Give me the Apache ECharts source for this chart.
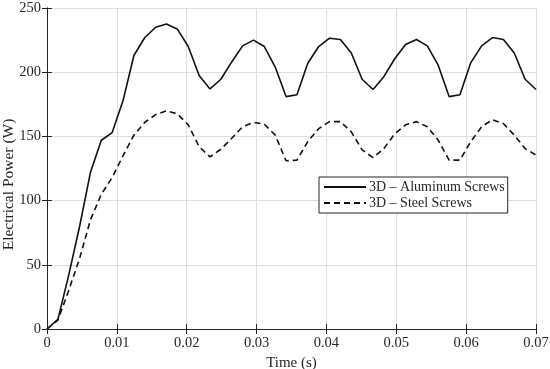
<!DOCTYPE html>
<html>
<head>
<meta charset="utf-8">
<script src="https://cdn.jsdelivr.net/npm/echarts@6/dist/echarts.min.js"></script>
<style>
html,body{margin:0;padding:0;background:#fff;}
#chart{width:550px;height:369px;}
</style>
</head>
<body>
<div id="chart"></div>
<script>
const timeS = [0,0.00156,0.00311,0.00467,0.00622,0.00778,0.00933,0.01089,0.01244,0.01400,
  0.01556,0.01711,0.01867,0.02022,0.02178,0.02333,0.02489,0.02644,0.02800,0.02956,
  0.03111,0.03267,0.03422,0.03578,0.03733,0.03889,0.04044,0.04200,0.04356,0.04511,
  0.04667,0.04822,0.04978,0.05133,0.05289,0.05444,0.05600,0.05756,0.05911,0.06067,
  0.06222,0.06378,0.06533,0.06689,0.06844,0.07000];
const aluminum = [0,7.5,42,80,122,147,153,178,213,227,
  235,237.5,233.5,220,197.5,187,194.5,208,220.5,225,
  220,204,181,182.5,207,220,226.5,225.5,215,194.5,
  186.5,196.5,210.5,221.5,225.5,220.5,205.5,181,182.5,207.5,
  220.5,227,225.5,215,194.5,186.5];
const steel = [0,7,30,55,85,105,118,135,151,161,
  167,170,167.5,159,142,134,140,148.5,157.5,161,
  159.5,151,131,131.5,146,156,161.5,161.5,153.5,139.5,
  133.5,140.5,152,159,161.5,157.5,147,131.5,131.5,146,
  157.5,163,160,151,140.5,135.5];
const seriesNames = ['3D – Aluminum Screws','3D – Steel Screws'];
const xTicks = [0,0.01,0.02,0.03,0.04,0.05,0.06,0.07];
const yTicks = [0,50,100,150,200,250];
const xTitle = 'Time (s)';
const yTitle = 'Electrical Power (W)';

const font = 'Liberation Serif';
const chart = echarts.init(document.getElementById('chart'), null, {renderer:'canvas'});
const pair = (xs, ys) => xs.map((x,i)=>[x, ys[i]]);
const axisLine = {show:true, lineStyle:{color:'#262626', width:1}};
const tick = {show:true, inside:true, length:5, lineStyle:{color:'#262626'}};
chart.setOption({
  animation:false,
  backgroundColor:'#fff',
  grid:{left:47, top:8, right:14, bottom:40, containLabel:false, outerBoundsMode:'none'},
  graphic:[{
    type:'text', left:1, top:'middle', rotation:Math.PI/2,
    x:0, y:0,
    style:{text:yTitle, font:'15.5px "Liberation Serif"', fill:'#262626'},
    z:100
  }],
  legend:{
    orient:'vertical', left:319, top:177,
    itemWidth:42, itemHeight:10, itemGap:2,
    padding:[3,3,3,4],
    backgroundColor:'#fff', borderColor:'#262626', borderWidth:1,
    itemStyle:{opacity:0},
    textStyle:{fontFamily:font, fontSize:14, color:'#262626', padding:[0,0,0,-2]},
    data:seriesNames
  },
  xAxis:[{
    type:'value', min:xTicks[0], max:xTicks[xTicks.length-1], interval:0.01,
    name:xTitle, nameLocation:'middle', nameGap:22,
    nameTextStyle:{fontFamily:font, fontSize:15, color:'#262626'},
    axisLine:axisLine, axisTick:tick,
    axisLabel:{fontFamily:font, fontSize:14.5, color:'#262626', margin:7,
      formatter:v=>String(+v.toFixed(2))},
    splitLine:{show:true, lineStyle:{color:'#dedede', width:1}}
  },{
    type:'value', position:'top', min:xTicks[0], max:xTicks[xTicks.length-1], interval:0.01,
    axisLine:axisLine, axisTick:tick, axisLabel:{show:false}, splitLine:{show:false}
  }],
  yAxis:[{
    type:'value', min:yTicks[0], max:yTicks[yTicks.length-1], interval:50,
    axisLine:axisLine, axisTick:tick,
    axisLabel:{fontFamily:font, fontSize:14.5, color:'#262626', margin:6},
    splitLine:{show:true, lineStyle:{color:'#dedede', width:1}}
  },{
    type:'value', position:'right', min:yTicks[0], max:yTicks[yTicks.length-1], interval:50,
    axisLine:axisLine, axisTick:tick, axisLabel:{show:false}, splitLine:{show:false}
  }],
  series:[{
    name:seriesNames[0], type:'line', data:pair(timeS, aluminum),
    symbol:'none', lineStyle:{color:'#111', width:1.6, type:'solid'}, itemStyle:{color:'#111'}
  },{
    name:seriesNames[1], type:'line', data:pair(timeS, steel),
    symbol:'none', lineStyle:{color:'#111', width:1.6, type:[6,4]}, itemStyle:{color:'#111'}
  }]
});
</script>
</body>
</html>
